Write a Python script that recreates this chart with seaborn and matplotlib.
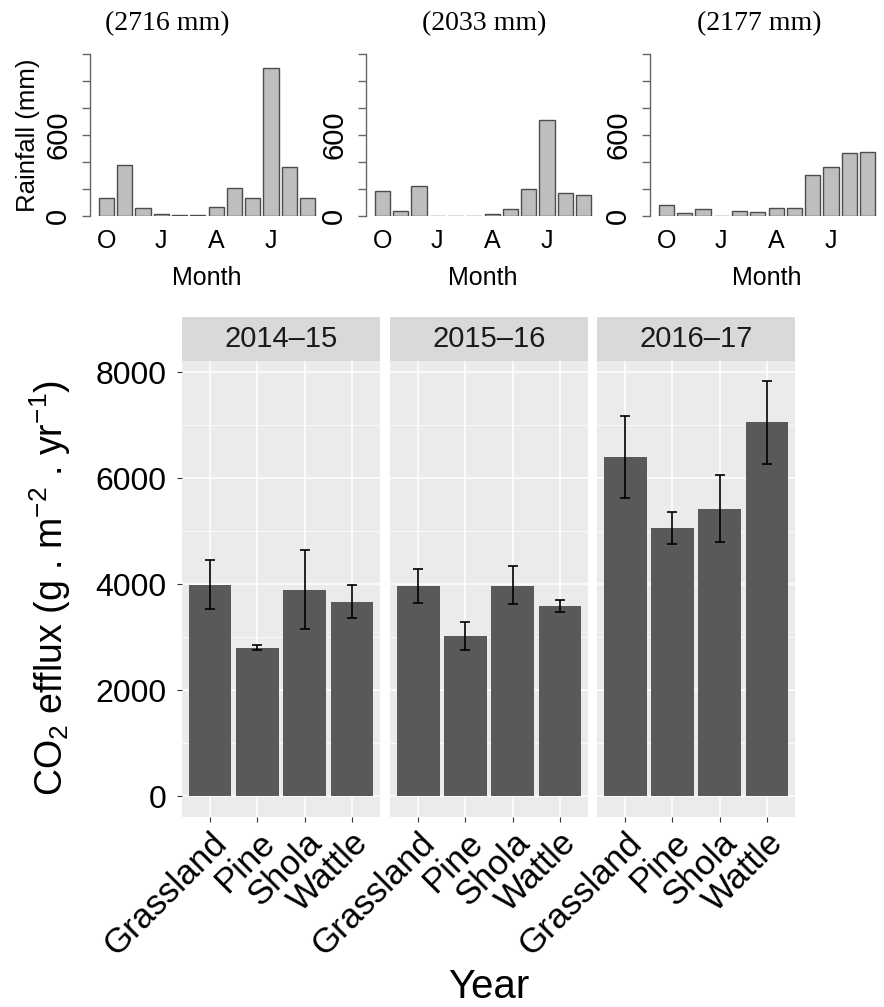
import numpy as np
import pandas as pd
import matplotlib
matplotlib.use("Agg")
import matplotlib.pyplot as plt
import seaborn as sns

# ---------------- data ----------------
months = ["Oct", "Nov", "Dec", "Jan", "Feb", "Mar", "Apr", "May", "Jun", "Jul", "Aug", "Sep"]
month_tick_labels = ["O", "J", "A", "J"]
rain_totals = ["(2716 mm)", "(2033 mm)", "(2177 mm)"]
rain_2014 = [133, 380, 62, 15, 5, 7, 69, 205, 133, 1099, 365, 133]
rain_2015 = [186, 36, 223, 2, 2, 2, 17, 51, 199, 714, 174, 157]
rain_2016 = [79, 25, 54, 2, 37, 32, 57, 62, 306, 360, 469, 474]

sites = ["Grassland", "Pine", "Shola", "Wattle"]
years = ["2014\u201315", "2015\u201316", "2016\u201317"]
efflux_2014 = [3985, 2797, 3891, 3664]
low_2014 = [3532, 2747, 3155, 3350]
high_2014 = [4450, 2841, 4651, 3985]
efflux_2015 = [3966, 3023, 3966, 3589]
low_2015 = [3646, 2759, 3614, 3470]
high_2015 = [4280, 3287, 4331, 3696]
efflux_2016 = [6398, 5060, 5418, 7058]
low_2016 = [5625, 4752, 4789, 6273]
high_2016 = [7165, 5355, 6066, 7832]

# ---------------- style ----------------
plt.rcParams["font.family"] = ["Liberation Sans", "DejaVu Sans"]
plt.rcParams["mathtext.fontset"] = "custom"
plt.rcParams["mathtext.rm"] = "Liberation Sans"
plt.rcParams["mathtext.it"] = "Liberation Sans:italic"
plt.rcParams["mathtext.default"] = "regular"

W, H = 884, 1007
fig = plt.figure(figsize=(W / 100, H / 100), dpi=100)


def px_axes(x0, y0, x1, y1):
    return fig.add_axes([x0 / W, 1 - y1 / H, (x1 - x0) / W, (y1 - y0) / H])


# ---------------- rainfall panels ----------------
rain_sets = [rain_2014, rain_2015, rain_2016]
rain_x = [(90, 324), (366, 600), (650, 884)]
title_x = [167, 484, 759]
for i, (vals, (x0, x1)) in enumerate(zip(rain_sets, rain_x)):
    ax = px_axes(x0, 54, x1, 216)
    df = pd.DataFrame({"month": months, "rain": vals})
    sns.barplot(data=df, x="month", y="rain", ax=ax, color="#BEBEBE", saturation=1,
                width=1 / 1.2, errorbar=None, edgecolor="#4D4D4D", linewidth=1.0)
    ax.set_xlim(-0.89, 11.89)
    ax.set_ylim(0, 1200)
    for s in ["top", "right", "bottom"]:
        ax.spines[s].set_visible(False)
    ax.spines["left"].set_color("#666666")
    ax.spines["left"].set_linewidth(1.0)
    ax.set_yticks(np.arange(0, 1201, 200))
    ax.set_yticklabels(["0", "", "", "600", "", "", ""])
    ax.tick_params(axis="y", length=5.8, width=1.0, color="#666666", labelsize=21,
                   pad=17, labelrotation=90)
    for lab in ax.get_yticklabels():
        lab.set_ha("center")
        lab.set_va("center")
    ax.set_xticks([0, 3, 6, 9])
    ax.set_xticklabels(month_tick_labels)
    ax.tick_params(axis="x", length=0, labelsize=18, pad=9)
    ax.set_xlabel("Month", fontsize=18, labelpad=10)
    ax.set_ylabel("Rainfall (mm)" if i == 0 else "", fontsize=18.5, labelpad=3)
    ax.patch.set_alpha(0)
    fig.text(title_x[i] / W, 1 - 24 / H, rain_totals[i], ha="center", va="center",
             fontsize=20, family="Liberation Serif")

# ---------------- CO2 efflux facets ----------------
effs = [efflux_2014, efflux_2015, efflux_2016]
lows = [low_2014, low_2015, low_2016]
highs = [high_2014, high_2015, high_2016]
facet_x = [(182, 380), (390, 588), (597, 795)]
for i, (yr, vals, lo, hi, (x0, x1)) in enumerate(zip(years, effs, lows, highs, facet_x)):
    ax = px_axes(x0, 361, x1, 817)
    df = pd.DataFrame({"site": sites, "efflux": vals})
    sns.barplot(data=df, x="site", y="efflux", ax=ax, color="#595959", saturation=1,
                width=0.9, errorbar=None, linewidth=0, zorder=2)
    xs = np.arange(len(sites))
    ax.errorbar(xs, vals, yerr=[np.subtract(vals, lo), np.subtract(hi, vals)], fmt="none",
                ecolor="black", elinewidth=1.2, capsize=3.4, capthick=1.2, zorder=3)
    ax.set_facecolor("#EBEBEB")
    ax.set_xlim(-0.6, 3.6)
    ax.set_ylim(-396, 8208)
    ax.set_yticks([0, 2000, 4000, 6000, 8000])
    ax.set_yticks([1000, 3000, 5000, 7000], minor=True)
    ax.set_axisbelow(True)
    ax.grid(which="major", color="white", linewidth=1.1)
    ax.grid(which="minor", axis="y", color="white", linewidth=0.55)
    for s in ax.spines.values():
        s.set_visible(False)
    ax.tick_params(axis="both", which="major", length=3.6, width=0.8, color="#333333",
                   labelcolor="black")
    ax.tick_params(which="minor", length=0)
    ax.tick_params(axis="y", labelsize=23, pad=7.5)
    ax.tick_params(axis="x", labelsize=25, pad=3)
    for lab in ax.get_xticklabels():
        lab.set_rotation(45)
        lab.set_ha("right")
        lab.set_va("top")
        lab.set_rotation_mode("anchor")
    if i > 0:
        ax.tick_params(axis="y", length=0, labelleft=False)
    ax.set_xlabel("")
    ax.set_ylabel("")
    # strip
    sax = px_axes(x0, 317, x1, 361)
    sax.set_facecolor("#D9D9D9")
    sax.set_xticks([])
    sax.set_yticks([])
    for s in sax.spines.values():
        s.set_visible(False)
    sax.text(0.5, 0.5, yr, transform=sax.transAxes, ha="center", va="center",
             fontsize=21, color="#1A1A1A")

fig.text(50 / W, 1 - 588 / H, r"CO$_2$ efflux (g . m$^{-2}$ . yr$^{-1}$)", rotation=90,
         ha="center", va="center", fontsize=27)
fig.text(489 / W, 1 - 987 / H, "Year", ha="center", va="center", fontsize=29)

fig.savefig("out.png", dpi=100, facecolor="white")
